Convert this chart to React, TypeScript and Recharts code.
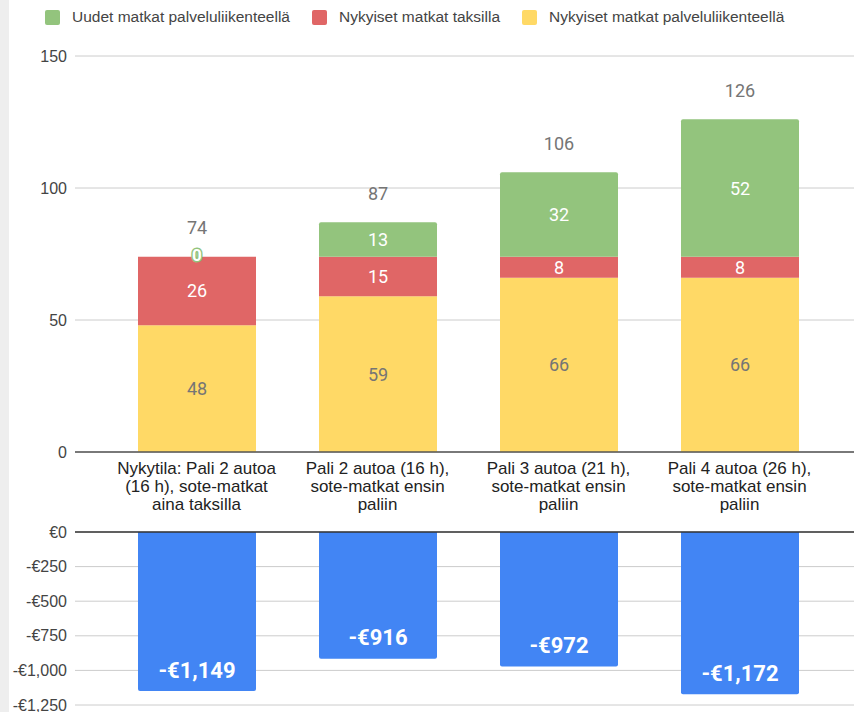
import React from 'react';
import { BarChart, Bar, XAxis, YAxis, CartesianGrid, LabelList, ReferenceLine } from 'recharts';

const CATEGORIES = [
  'Nykytila: Pali 2 autoa (16 h), sote-matkat aina taksilla',
  'Pali 2 autoa (16 h), sote-matkat ensin paliin',
  'Pali 3 autoa (21 h), sote-matkat ensin paliin',
  'Pali 4 autoa (26 h), sote-matkat ensin paliin',
];
const CATEGORY_LINES = [
  ['Nykytila: Pali 2 autoa', '(16 h), sote-matkat', 'aina taksilla'],
  ['Pali 2 autoa (16 h),', 'sote-matkat ensin', 'paliin'],
  ['Pali 3 autoa (21 h),', 'sote-matkat ensin', 'paliin'],
  ['Pali 4 autoa (26 h),', 'sote-matkat ensin', 'paliin'],
];
const SERVICE_TRIPS = [48, 59, 66, 66];
const TAXI_TRIPS = [26, 15, 8, 8];
const NEW_SERVICE_TRIPS = [0, 13, 32, 52];
const COST_DIFF = [-1149, -916, -972, -1172];
const TRIP_TICKS = [0, 50, 100, 150];
const COST_TICKS = [-1250, -1000, -750, -500, -250, 0];

const LEGEND = [
  { name: 'Uudet matkat palveluliikenteellä', color: '#93c47d' },
  { name: 'Nykyiset matkat taksilla', color: '#e06666' },
  { name: 'Nykyiset matkat palveluliikenteellä', color: '#ffd966' },
];

const tripData = CATEGORIES.map((category, i) => ({
  category,
  service: SERVICE_TRIPS[i],
  taxi: TAXI_TRIPS[i],
  newService: NEW_SERVICE_TRIPS[i],
  total: SERVICE_TRIPS[i] + TAXI_TRIPS[i] + NEW_SERVICE_TRIPS[i],
}));

const costData = CATEGORIES.map((category, i) => ({ category, cost: COST_DIFF[i] }));

const AXIS_FONT = '"Liberation Sans", Arial, sans-serif';
const LABEL_FONT = 'Roboto, "Liberation Sans", sans-serif';
const X_PAD = { left: 31, right: 24 };

const formatEuro = (v: number) =>
  v === 0 ? '€0' : (v < 0 ? '-' : '') + '€' + Math.abs(v).toLocaleString('en-US');

const CategoryTick = ({ x, y, payload }: any) => {
  const idx = CATEGORIES.indexOf(payload.value);
  const lines = CATEGORY_LINES[idx] || [];
  return (
    <text x={x} y={y} textAnchor="middle" fill="#222" fontSize={17} fontFamily={AXIS_FONT}>
      {lines.map((l, i) => (
        <tspan key={i} x={x} dy={i === 0 ? 14 : 18}>{l}</tspan>
      ))}
    </text>
  );
};

// last tick sits at the very bottom edge; keep its comma inside the picture
const CostTick = ({ x, y, payload }: any) => (
  <text x={x} y={Math.min(y, 702)} textAnchor="end" dominantBaseline="central"
    fill="#444" fontSize={16} fontFamily={AXIS_FONT}>
    {formatEuro(payload.value)}
  </text>
);

// totals (and zero-height green labels) are placed from the yellow base bar's geometry,
// since recharts skips label entries for zero-height segments
const TotalLabel = ({ x, y, width, height, index }: any) => {
  const row = tripData[index];
  if (!row) return null;
  const pxPerUnit = height / row.service;
  const top = y + height - row.total * pxPerUnit;
  const cx = x + width / 2;
  return (
    <g>
      <text x={cx} y={top - 29} textAnchor="middle" dominantBaseline="central"
        fill="#757575" fontSize={18} fontFamily={LABEL_FONT}>
        {row.total}
      </text>
      {row.newService === 0 && (
        <text x={cx} y={top - 2} textAnchor="middle" dominantBaseline="central" fill="#fff"
          stroke="#93c47d" strokeWidth={3} paintOrder="stroke" fontSize={17} fontWeight={700} fontFamily={LABEL_FONT}>
          0
        </text>
      )}
    </g>
  );
};

const GreenLabel = ({ x, y, width, height, value }: any) => {
  if (!value) return null;
  return (
    <text x={x + width / 2} y={y + height / 2} textAnchor="middle" dominantBaseline="central" fill="#fff"
      fontSize={18} fontFamily={LABEL_FONT}>
      {value}
    </text>
  );
};

const CostLabel = ({ x, y, width, height, value }: any) => {
  const bottom = Math.max(y, y + height);
  return (
    <text x={x + width / 2} y={bottom - 21} textAnchor="middle" dominantBaseline="central"
      fill="#fff" fontSize={22} fontWeight={700} fontFamily={LABEL_FONT}>
      {formatEuro(value)}
    </text>
  );
};

export default function App() {
  return (
    <div style={{ position: 'relative', width: 854, height: 712, background: '#fff', overflow: 'hidden' }}>
      <style>{'body{margin:0;background:#fff}'}</style>
      <div style={{ position: 'absolute', left: 0, top: 0, width: 9, height: 712, background: '#eeeeee' }} />

      <div style={{ position: 'absolute', top: 8, left: 45, display: 'flex', alignItems: 'center',
        fontFamily: AXIS_FONT, fontSize: 15.5, color: '#444', whiteSpace: 'nowrap' }}>
        {LEGEND.map((s) => (
          <div key={s.name} style={{ display: 'flex', alignItems: 'center', marginRight: 22 }}>
            <span style={{ width: 15, height: 15, background: s.color, borderRadius: 2, marginRight: 12, display: 'inline-block' }} />
            <span>{s.name}</span>
          </div>
        ))}
      </div>

      <div style={{ position: 'absolute', top: 0, left: 0 }}>
        <BarChart width={854} height={530} data={tripData} margin={{ top: 56, right: 0, bottom: 0, left: 0 }}>
          <CartesianGrid vertical={false} stroke="#cccccc" />
          <XAxis dataKey="category" axisLine={false} tickLine={false} padding={X_PAD}
            height={78} interval={0} tick={<CategoryTick />} />
          <YAxis width={75} domain={[0, 150]} ticks={TRIP_TICKS} interval={0} axisLine={false} tickLine={false}
            tick={{ fill: '#444', fontSize: 16, fontFamily: AXIS_FONT }} />
          <Bar dataKey="service" stackId="a" fill="#ffd966" barSize={118} isAnimationActive={false}>
            <LabelList dataKey="service" position="center" fill="#757575" fontSize={18} fontFamily={LABEL_FONT} />
            <LabelList dataKey="total" content={<TotalLabel />} />
          </Bar>
          <Bar dataKey="taxi" stackId="a" fill="#e06666" barSize={118} isAnimationActive={false}>
            <LabelList dataKey="taxi" position="center" fill="#fff" fontSize={18} fontFamily={LABEL_FONT} />
          </Bar>
          <Bar dataKey="newService" stackId="a" fill="#93c47d" barSize={118} radius={[2, 2, 0, 0]} isAnimationActive={false}>
            <LabelList dataKey="newService" content={<GreenLabel />} />
          </Bar>
          <ReferenceLine y={0} stroke="#555" strokeWidth={1.5} />
        </BarChart>
      </div>

      <div style={{ position: 'absolute', top: 525, left: 0 }}>
        <BarChart width={854} height={187} data={costData} margin={{ top: 7, right: 0, bottom: 7, left: 0 }}>
          <CartesianGrid vertical={false} stroke="#cccccc" />
          <XAxis dataKey="category" hide padding={X_PAD} />
          <YAxis width={75} domain={[-1250, 0]} ticks={COST_TICKS} interval={0} axisLine={false} tickLine={false}
            tick={<CostTick />} />
          <Bar dataKey="cost" fill="#4285f4" barSize={118} radius={[2, 2, 0, 0]} isAnimationActive={false}>
            <LabelList dataKey="cost" content={<CostLabel />} />
          </Bar>
          <ReferenceLine y={0} stroke="#333" strokeWidth={1.5} />
        </BarChart>
      </div>
    </div>
  );
}
